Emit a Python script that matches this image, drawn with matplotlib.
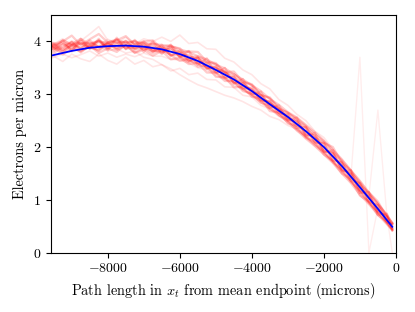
import numpy as np
import matplotlib
matplotlib.use("Agg")
import matplotlib.pyplot as plt

plt.rcParams["font.family"] = "serif"
plt.rcParams["font.serif"] = ["cmr10"]
plt.rcParams["mathtext.fontset"] = "cm"
plt.rcParams["axes.formatter.use_mathtext"] = True
plt.rcParams["font.size"] = 10

# path positions (microns from mean endpoint)
x = np.append(np.arange(-9750, 0, 250), -100)

# mean fit
fit_x = [-9575, -9000, -8500, -8000, -7500, -7000, -6500, -6000, -5500, -5000,
         -4500, -4000, -3500, -3000, -2500, -2000, -1500, -1000, -500, -100]
fit_y = [3.73, 3.82, 3.88, 3.91, 3.92, 3.90, 3.85, 3.76, 3.63, 3.46,
         3.28, 3.06, 2.81, 2.57, 2.30, 2.00, 1.64, 1.24, 0.83, 0.49]

# individual tracks close to the mean (electrons per micron)
tracks = [
    [4.04, 3.85, 4.02, 3.81, 4.05, 3.86, 4.05, 3.83, 4.07, 3.85, 4.03, 3.80, 4.00, 3.76, 3.94, 3.69, 3.82, 3.55, 3.68, 3.39,
     3.50, 3.20, 3.29, 2.99, 3.05, 2.74, 2.79, 2.50, 2.56, 2.20, 2.27, 1.90, 1.94, 1.54, 1.56, 1.13, 1.15, 0.72, 0.74, 0.44],
    [3.77, 3.88, 3.75, 3.87, 3.81, 3.92, 3.78, 3.87, 3.80, 3.94, 3.78, 3.84, 3.73, 3.82, 3.66, 3.69, 3.57, 3.59, 3.41, 3.41,
     3.25, 3.25, 3.06, 3.01, 2.84, 2.79, 2.60, 2.52, 2.34, 2.22, 2.06, 1.93, 1.72, 1.58, 1.35, 1.18, 0.94, 0.77, 0.55, 0.44],
    [4.07, 3.95, 4.00, 4.11, 3.93, 4.04, 4.14, 3.98, 4.02, 4.10, 3.94, 4.00, 4.02, 3.86, 3.90, 3.87, 3.69, 3.72, 3.60, 3.57,
     3.40, 3.38, 3.23, 3.17, 2.98, 2.94, 2.74, 2.65, 2.54, 2.40, 2.24, 2.11, 1.90, 1.74, 1.52, 1.33, 1.10, 0.92, 0.70, 0.56],
    [3.91, 3.82, 3.95, 3.85, 3.97, 3.87, 4.00, 3.88, 3.98, 3.87, 3.96, 3.84, 3.92, 3.81, 3.87, 3.72, 3.75, 3.58, 3.60, 3.42,
     3.43, 3.23, 3.22, 3.02, 2.99, 2.77, 2.74, 2.53, 2.50, 2.24, 2.22, 1.94, 1.89, 1.58, 1.50, 1.18, 1.09, 0.77, 0.69, 0.46],
    [3.79, 3.96, 3.84, 3.99, 3.86, 4.02, 3.88, 3.99, 3.86, 4.01, 3.84, 3.96, 3.80, 3.94, 3.72, 3.83, 3.63, 3.70, 3.48, 3.53,
     3.31, 3.34, 3.10, 3.13, 2.88, 2.87, 2.64, 2.62, 2.36, 2.38, 2.08, 2.08, 1.74, 1.72, 1.36, 1.32, 0.96, 0.90, 0.57, 0.55],
    [3.97, 3.88, 3.80, 3.93, 4.01, 3.88, 3.84, 3.98, 4.04, 3.86, 3.89, 4.00, 3.84, 3.78, 3.88, 3.71, 3.61, 3.69, 3.50, 3.49,
     3.43, 3.21, 3.20, 3.07, 2.89, 2.84, 2.70, 2.51, 2.48, 2.24, 2.18, 1.92, 1.88, 1.57, 1.49, 1.18, 1.06, 0.80, 0.68, 0.46],
    [3.85, 3.90, 3.84, 3.93, 3.88, 3.96, 3.90, 3.95, 3.88, 3.93, 3.86, 3.88, 3.82, 3.83, 3.75, 3.73, 3.63, 3.59, 3.49, 3.41,
     3.30, 3.22, 3.09, 2.99, 2.85, 2.73, 2.61, 2.47, 2.32, 2.16, 2.02, 1.86, 1.70, 1.50, 1.32, 1.10, 0.92, 0.72, 0.54, 0.42],
    [3.94, 3.92, 3.97, 3.94, 3.97, 3.96, 4.00, 3.97, 3.99, 3.98, 4.00, 3.96, 3.96, 3.93, 3.92, 3.85, 3.80, 3.72, 3.66, 3.56,
     3.49, 3.38, 3.28, 3.17, 3.06, 2.91, 2.80, 2.66, 2.56, 2.42, 2.28, 2.12, 1.94, 1.76, 1.56, 1.36, 1.14, 0.93, 0.72, 0.55],
    [3.84, 3.78, 3.90, 3.99, 3.83, 3.90, 4.02, 3.86, 3.94, 4.00, 3.87, 3.95, 3.82, 3.90, 3.74, 3.79, 3.65, 3.68, 3.50, 3.51,
     3.32, 3.33, 3.12, 3.10, 2.89, 2.86, 2.65, 2.60, 2.40, 2.36, 2.10, 2.06, 1.76, 1.70, 1.40, 1.31, 0.98, 0.89, 0.59, 0.53],
    [3.99, 3.90, 4.02, 3.95, 4.05, 3.94, 4.02, 3.92, 4.04, 3.96, 4.01, 3.90, 3.96, 3.90, 3.92, 3.79, 3.81, 3.80, 3.62, 3.59,
     3.42, 3.43, 3.24, 3.19, 2.99, 2.92, 2.72, 2.65, 2.50, 2.38, 2.18, 2.08, 2.00, 1.70, 1.56, 1.28, 1.14, 0.97, 0.67, 0.56],
    [3.81, 3.94, 3.80, 3.93, 3.79, 3.92, 3.82, 3.96, 3.84, 3.92, 3.79, 3.88, 3.78, 3.86, 3.74, 3.63, 3.67, 3.52, 3.54, 3.33,
     3.32, 3.13, 3.14, 2.95, 2.93, 2.68, 2.66, 2.45, 2.40, 2.18, 2.10, 1.86, 1.74, 1.50, 1.40, 1.08, 0.97, 0.71, 0.59, 0.42],
]

# tracks that wander further from the mean
wide_tracks = [
    [3.64, 3.72, 3.62, 3.76, 3.67, 3.62, 3.76, 3.64, 3.57, 3.70, 3.57, 3.64, 3.52, 3.56, 3.44, 3.49, 3.37, 3.40, 3.28, 3.27,
     3.14, 3.13, 2.98, 2.95, 2.79, 2.72, 2.58, 2.49, 2.30, 2.20, 2.02, 1.90, 1.70, 1.55, 1.33, 1.16, 0.94, 0.76, 0.56, 0.43],
    [3.89, 3.98, 3.88, 4.01, 3.94, 3.99, 3.92, 4.04, 3.97, 4.02, 3.95, 4.05, 4.00, 4.08, 4.00, 4.12, 3.96, 3.98, 3.86, 3.85,
     3.68, 3.61, 3.46, 3.37, 3.20, 3.10, 2.90, 2.79, 2.62, 2.50, 2.30, 2.18, 1.96, 1.78, 1.56, 1.36, 1.14, 0.93, 0.72, 0.58],
    [3.91, 3.84, 3.95, 3.88, 3.95, 3.86, 3.92, 3.82, 3.86, 3.78, 3.81, 3.70, 3.66, 3.56, 3.48, 3.37, 3.27, 3.18, 3.12, 3.05,
     2.98, 2.93, 2.86, 2.77, 2.70, 2.58, 2.52, 2.41, 2.34, 2.18, 2.04, 1.90, 1.74, 1.56, 1.36, 1.17, 0.97, 0.78, 0.57, 0.45],
    [3.87, 3.95, 4.05, 3.91, 4.01, 4.14, 4.28, 4.02, 3.96, 4.08, 3.94, 3.99, 3.92, 3.88, 3.85, 3.81, 3.72, 3.69, 3.59, 3.51,
     3.41, 3.33, 3.21, 3.09, 2.98, 2.84, 2.71, 2.60, 2.48, 2.36, 2.20, 2.06, 1.88, 1.70, 1.49, 1.30, 1.08, 0.88, 0.67, 0.52],
    [3.63, 3.70, 3.76, 3.69, 3.75, 3.82, 3.72, 3.78, 3.70, 3.76, 3.71, 3.78, 3.72, 3.72, 3.66, 3.65, 3.59, 3.50, 3.46, 3.35,
     3.28, 3.17, 3.10, 2.97, 2.87, 2.73, 2.63, 2.49, 2.36, 2.20, 2.06, 1.90, 1.74, 1.54, 1.36, 1.14, 0.96, 0.75, 0.58, 0.44],
]

# a few tracks with bad samples near the endpoint
odd_tracks = [
    [3.92, 3.86, 3.95, 3.90, 3.96, 3.88, 3.97, 3.90, 3.92, 3.95, 3.88, 3.92, 3.85, 3.87, 3.80, 3.79, 3.69, 3.66, 3.54, 3.50,
     3.36, 3.31, 3.16, 3.10, 2.94, 2.85, 2.68, 2.58, 2.40, 2.29, 2.10, 2.00, 1.79, 1.66, 1.43, 3.70, 0.00, 0.85, 0.60, 0.50],
    [3.86, 3.92, 3.88, 3.94, 3.89, 3.93, 3.91, 3.95, 3.91, 3.93, 3.93, 3.89, 3.90, 3.84, 3.83, 3.75, 3.73, 3.63, 3.58, 3.46,
     3.40, 3.28, 3.20, 3.06, 2.98, 2.82, 2.72, 2.55, 2.45, 2.26, 2.15, 1.96, 1.84, 1.62, 1.47, 1.25, 1.07, 2.70, 0.70, 0.00],
]

fig = plt.figure(figsize=(4.15, 3.12), dpi=100)
ax = fig.add_axes([0.123, 0.19, 0.831, 0.762])

for t in tracks:
    ax.plot(x, t, color="red", alpha=0.2, lw=1.6)
for t in wide_tracks:
    ax.plot(x, t, color="red", alpha=0.1, lw=1.2)
for t in odd_tracks:
    ax.plot(x, t, color="red", alpha=0.07, lw=1.0)

ax.plot(fit_x, fit_y, color="blue", lw=1.3)

ax.set_xlim(-9575, 0)
ax.set_ylim(0, 4.5)
ax.set_xticks([-8000, -6000, -4000, -2000, 0])
ax.set_yticks([0, 1, 2, 3, 4])
ax.set_xlabel("Path length in $x_t$ from mean endpoint (microns)", fontsize=10.3)
ax.set_ylabel("Electrons per micron", fontsize=10.3)

fig.savefig("out.png", dpi=100)
